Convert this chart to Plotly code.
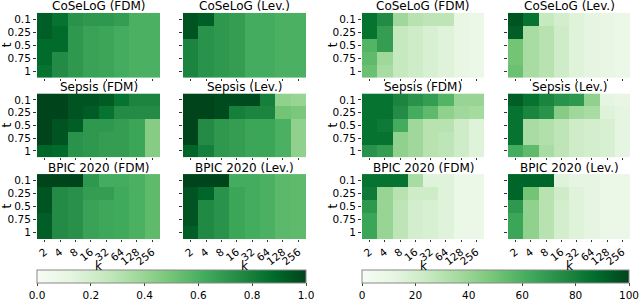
import plotly.graph_objects as go

k_labels = ["2", "4", "8", "16", "32", "64", "128", "256"]
t_labels = ["0.1", "0.25", "0.5", "0.75", "1"]

# Left group (0..1)
coselog_fdm_a = [
    [0.92, 0.85, 0.72, 0.70, 0.70, 0.68, 0.60, 0.60],
    [0.92, 0.88, 0.70, 0.66, 0.65, 0.62, 0.60, 0.60],
    [0.88, 0.88, 0.70, 0.66, 0.65, 0.62, 0.60, 0.60],
    [0.88, 0.75, 0.70, 0.66, 0.65, 0.62, 0.60, 0.60],
    [0.85, 0.75, 0.70, 0.66, 0.65, 0.62, 0.60, 0.60],
]
coselog_lev_a = [
    [0.95, 0.92, 0.70, 0.68, 0.62, 0.62, 0.60, 0.60],
    [0.95, 0.72, 0.70, 0.68, 0.62, 0.62, 0.60, 0.60],
    [0.78, 0.72, 0.70, 0.68, 0.62, 0.62, 0.60, 0.60],
    [0.78, 0.72, 0.70, 0.68, 0.62, 0.62, 0.60, 0.60],
    [0.78, 0.72, 0.70, 0.68, 0.62, 0.62, 0.60, 0.60],
]
sepsis_fdm_a = [
    [1.00, 1.00, 0.95, 0.95, 0.93, 0.85, 0.78, 0.78],
    [1.00, 1.00, 0.95, 0.93, 0.85, 0.75, 0.75, 0.75],
    [1.00, 0.95, 0.92, 0.70, 0.70, 0.68, 0.65, 0.45],
    [1.00, 0.95, 0.72, 0.70, 0.68, 0.68, 0.65, 0.45],
    [0.90, 0.88, 0.72, 0.70, 0.68, 0.68, 0.65, 0.45],
]
sepsis_lev_a = [
    [1.00, 1.00, 0.98, 0.98, 0.98, 0.80, 0.42, 0.40],
    [1.00, 1.00, 0.98, 0.80, 0.78, 0.78, 0.50, 0.48],
    [1.00, 0.75, 0.70, 0.68, 0.65, 0.65, 0.60, 0.42],
    [1.00, 0.75, 0.70, 0.68, 0.65, 0.65, 0.60, 0.42],
    [0.90, 0.80, 0.70, 0.68, 0.65, 0.65, 0.60, 0.42],
]
bpic_fdm_a = [
    [1.00, 1.00, 1.00, 0.70, 0.62, 0.62, 0.60, 0.55],
    [0.95, 0.75, 0.73, 0.68, 0.68, 0.63, 0.60, 0.55],
    [0.95, 0.75, 0.73, 0.66, 0.64, 0.63, 0.60, 0.55],
    [0.92, 0.75, 0.73, 0.66, 0.64, 0.63, 0.60, 0.55],
    [0.92, 0.75, 0.73, 0.66, 0.64, 0.63, 0.60, 0.55],
]
bpic_lev_a = [
    [1.00, 1.00, 1.00, 0.62, 0.62, 0.60, 0.56, 0.55],
    [0.95, 0.90, 0.72, 0.65, 0.62, 0.60, 0.56, 0.55],
    [0.95, 0.76, 0.72, 0.65, 0.62, 0.60, 0.56, 0.55],
    [0.95, 0.76, 0.72, 0.65, 0.62, 0.60, 0.56, 0.55],
    [0.92, 0.76, 0.72, 0.65, 0.62, 0.60, 0.56, 0.55],
]

# Right group (0..100)
coselog_fdm_b = [
    [85, 75, 38, 30, 28, 28, 10, 8],
    [85, 68, 25, 22, 18, 15, 10, 8],
    [58, 68, 25, 22, 18, 15, 10, 8],
    [55, 38, 25, 22, 18, 15, 10, 8],
    [52, 35, 25, 22, 18, 15, 10, 8],
]
coselog_lev_b = [
    [95, 85, 25, 20, 15, 12, 10, 8],
    [92, 35, 30, 22, 15, 12, 10, 8],
    [50, 35, 30, 22, 15, 12, 10, 8],
    [50, 35, 30, 22, 15, 12, 10, 8],
    [52, 35, 30, 22, 15, 12, 10, 8],
]
sepsis_fdm_b = [
    [85, 85, 78, 72, 68, 58, 40, 40],
    [85, 85, 75, 62, 55, 42, 38, 36],
    [85, 82, 62, 38, 30, 30, 22, 15],
    [85, 85, 42, 38, 30, 28, 22, 15],
    [72, 68, 42, 38, 30, 28, 22, 15],
]
sepsis_lev_b = [
    [92, 85, 78, 72, 70, 42, 12, 10],
    [85, 78, 72, 45, 38, 35, 15, 12],
    [85, 35, 32, 28, 22, 20, 18, 12],
    [85, 35, 32, 28, 22, 20, 18, 12],
    [62, 55, 35, 28, 22, 20, 18, 12],
]
bpic_fdm_b = [
    [85, 85, 85, 35, 15, 15, 8, 8],
    [82, 40, 30, 22, 22, 15, 8, 8],
    [70, 40, 28, 20, 18, 15, 8, 8],
    [65, 40, 28, 20, 18, 15, 8, 8],
    [65, 40, 28, 20, 18, 15, 8, 8],
]
bpic_lev_b = [
    [90, 90, 90, 15, 12, 12, 8, 8],
    [90, 50, 30, 22, 15, 12, 8, 8],
    [70, 42, 30, 20, 15, 12, 8, 8],
    [65, 42, 30, 20, 15, 12, 8, 8],
    [65, 42, 30, 20, 15, 12, 8, 8],
]

titles = [
    ["CoSeLoG (FDM)", "CoSeLoG (Lev.)", "CoSeLoG (FDM)", "CoSeLoG (Lev.)"],
    ["Sepsis (FDM)", "Sepsis (Lev.)", "Sepsis (FDM)", "Sepsis (Lev.)"],
    ["BPIC 2020 (FDM)", "BPIC 2020 (Lev.)", "BPIC 2020 (FDM)", "BPIC 2020 (Lev.)"],
]
grid = [
    [coselog_fdm_a, coselog_lev_a, coselog_fdm_b, coselog_lev_b],
    [sepsis_fdm_a, sepsis_lev_a, sepsis_fdm_b, sepsis_lev_b],
    [bpic_fdm_a, bpic_lev_a, bpic_fdm_b, bpic_lev_b],
]
cbar_a_ticks = [0, 0.2, 0.4, 0.6, 0.8, 1.0]
cbar_a_text = ["0.0", "0.2", "0.4", "0.6", "0.8", "1.0"]
cbar_b_ticks = [0, 20, 40, 60, 80, 100]

W, H = 640, 302
greens = [
    [0.0, "#f7fcf5"], [0.125, "#e5f5e0"], [0.25, "#c7e9c0"], [0.375, "#a1d99b"],
    [0.5, "#74c476"], [0.625, "#41ab5d"], [0.75, "#238b45"], [0.875, "#006d2c"],
    [1.0, "#00441b"],
]
FONT = "DejaVu Sans"
TICK = 10.5

col_px = [(37, 160), (183, 306), (362, 484), (508, 630)]
row_px = [(13, 79), (95, 160), (177, 243)]

fig = go.Figure()
layout = dict(
    width=W, height=H, margin=dict(l=0, r=0, t=0, b=0),
    paper_bgcolor="white", plot_bgcolor="white",
    font=dict(family=FONT, size=12, color="black"),
    showlegend=False,
)
annotations = []
n = 0
for r in range(3):
    for c in range(4):
        n += 1
        xa = "x" if n == 1 else f"x{n}"
        ya = "y" if n == 1 else f"y{n}"
        fig.add_trace(go.Heatmap(
            z=grid[r][c], x=k_labels, y=t_labels,
            coloraxis="coloraxis" if c < 2 else "coloraxis2",
            xaxis=xa, yaxis=ya, hoverinfo="skip",
        ))
        x0, x1 = col_px[c]
        y0, y1 = row_px[r]
        layout["xaxis" if n == 1 else f"xaxis{n}"] = dict(
            domain=[x0 / W, x1 / W], anchor=ya, type="category",
            tickmode="array", tickvals=k_labels, ticktext=k_labels,
            showgrid=False, zeroline=False, showline=False,
            ticks="outside", ticklen=2, tickwidth=1, tickcolor="#333",
            showticklabels=(r == 2), tickangle=-38,
            tickfont=dict(size=10.5, family=FONT),
        )
        layout["yaxis" if n == 1 else f"yaxis{n}"] = dict(
            domain=[1 - y1 / H, 1 - y0 / H], anchor=xa, type="category",
            autorange="reversed",
            tickmode="array", tickvals=t_labels, ticktext=t_labels,
            showgrid=False, zeroline=False, showline=False,
            ticks="outside", ticklen=3, tickwidth=1, tickcolor="#333",
            showticklabels=(c in (0, 2)),
            tickfont=dict(size=TICK, family=FONT),
        )
        annotations.append(dict(
            text=titles[r][c], x=(x0 + x1) / 2 / W, y=1 - (y0 - 6.5) / H,
            xref="paper", yref="paper", xanchor="center", yanchor="middle",
            showarrow=False, font=dict(size=12, family=FONT),
        ))
    for gx in (7, 333):
        annotations.append(dict(
            text="t", x=gx / W, y=1 - (sum(row_px[r]) / 2) / H,
            xref="paper", yref="paper", xanchor="center", yanchor="middle",
            textangle=-90, showarrow=False, font=dict(size=12, family=FONT),
        ))
for c in range(4):
    x0, x1 = col_px[c]
    annotations.append(dict(
        text="k", x=(x0 + x1) / 2 / W, y=1 - 270 / H,
        xref="paper", yref="paper", xanchor="center", yanchor="middle",
        showarrow=False, font=dict(size=12, family=FONT),
    ))

layout["annotations"] = annotations
cb_y = 1 - 275 / H
layout["coloraxis"] = dict(
    colorscale=greens, cmin=0, cmax=1,
    colorbar=dict(
        orientation="h", x=(37 + 306) / 2 / W, xanchor="center",
        y=cb_y, yanchor="top", ypad=0, xpad=0,
        lenmode="pixels", len=269, thickness=13,
        outlinewidth=1, outlinecolor="#888",
        tickvals=cbar_a_ticks, ticktext=cbar_a_text,
        ticks="outside", ticklen=3, tickfont=dict(size=TICK, family=FONT),
    ),
)
layout["coloraxis2"] = dict(
    colorscale=greens, cmin=0, cmax=100,
    colorbar=dict(
        orientation="h", x=(362 + 629) / 2 / W, xanchor="center",
        y=cb_y, yanchor="top", ypad=0, xpad=0,
        lenmode="pixels", len=267, thickness=13,
        outlinewidth=1, outlinecolor="#888",
        tickvals=cbar_b_ticks,
        ticks="outside", ticklen=3, tickfont=dict(size=TICK, family=FONT),
    ),
)
fig.update_layout(**layout)
fig.write_html(
    "out.html",
    config={"displayModeBar": False},
    post_script="document.body.style.margin='0';document.body.style.overflow='hidden';",
)
